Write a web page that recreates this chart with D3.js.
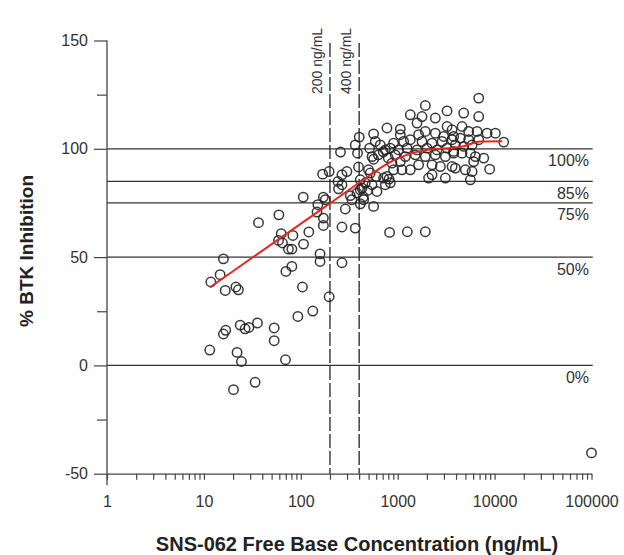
<!DOCTYPE html>
<html>
<head>
<meta charset="utf-8">
<script src="https://cdn.jsdelivr.net/npm/d3@7"></script>
<style>
  html, body { margin: 0; padding: 0; background: #fff; }
  svg { display: block; font-family: "Liberation Sans", Arial, Helvetica, sans-serif; }
</style>
</head>
<body>
<div id="viz"></div>
<script>
// ---- Data ----
// free base concentration (ng/mL) and % BTK inhibition, same order
const conc = [
  11.8, 14.7, 15.9, 16.6, 21.4, 22.7, 36.6, 59.4, 62.8, 58.9, 64.7, 74.6, 80.9, 70.2, 80.9, 82.8,
  106.7, 121, 106, 104, 158, 158, 266, 196, 133, 93.3, 171, 150, 147, 171, 171, 179,
  266, 288, 365, 245, 242, 324, 380, 411, 441, 411, 564, 611, 825,
  23.7, 26.6, 29.1, 35.7, 16.8, 15.9, 53.1, 53.1, 11.5, 22.0, 24.4, 69.5, 33.8, 20.2, 100000,
  401, 564, 587, 513, 661, 745, 257, 385, 543, 564, 394, 500, 521, 601, 715, 813,
  168, 196, 266, 299, 266, 411, 463, 543, 428, 489, 745, 445, 337, 839, 1257, 1928,
  1928, 3231, 1349, 1782, 2445, 1582, 775, 1064, 1928, 2445, 3231, 1064, 1644, 2980,
  907, 1151, 1349, 1782, 2261, 2870, 3640, 839, 1021, 1248, 1582, 2009, 2547, 3231,
  944, 1199, 1520, 1928, 2445, 3104, 3778, 873, 1064, 1349, 1107, 907, 1644, 2261, 2754, 3640,
  2084, 2261, 3104, 775,
  6855, 4797, 6855, 4613, 3640, 5400, 6592, 8367, 10190, 12420, 3778, 4436, 5400, 6855,
  3936, 4797, 5857, 3778, 4613, 5623, 6336, 6085, 3936, 4990, 5857, 5623, 8893, 7727,
  710, 631, 800, 365
];
const inhibition = [
  38.5, 41.9, 49.2, 34.6, 36.2, 34.9, 65.9, 69.5, 60.8, 57.7, 56.5, 53.7, 53.7, 43.4, 45.7, 60.0,
  56.0, 61.6, 77.7, 36.2, 51.5, 48.0, 47.4, 31.7, 25.1, 22.6, 77.7, 74.2, 70.8, 68.0, 64.6, 76.5,
  63.9, 72.2, 63.4, 81.5, 84.9, 78.4, 79.6, 81.1, 77.8, 74.6, 73.4, 80.3, 61.4,
  18.6, 16.9, 17.5, 19.6, 16.2, 14.5, 17.3, 11.4, 7.1, 6.0, 1.8, 2.6, -7.8, -11.2, -40.4,
  105.4, 106.9, 103.4, 100.3, 101.8, 99.5, 98.5, 98.0, 96.4, 95.2, 91.6, 90.3, 88.8, 87.2, 86.5, 86.0,
  88.3, 89.5, 88.0, 89.5, 83.4, 85.7, 84.2, 83.4, 81.9, 80.8, 83.4, 76.5, 76.5, 84.3, 61.7, 61.7,
  120.0, 117.5, 115.7, 114.9, 114.2, 111.9, 109.6, 109.1, 108.0, 107.2, 110.3, 106.5, 106.5, 105.7,
  102.6, 103.4, 104.2, 103.4, 102.6, 103.4, 104.2, 100.3, 99.5, 100.3, 99.5, 100.3, 99.5, 100.3,
  97.2, 96.4, 97.2, 96.4, 97.2, 96.4, 98.0, 93.4, 94.1, 90.3, 90.3, 90.3, 92.6, 92.6, 91.8, 91.8,
  86.5, 88.0, 86.5, 87.2,
  123.4, 116.5, 114.9, 110.3, 108.8, 108.0, 108.0, 107.2, 107.2, 103.1, 105.7, 104.9, 104.2, 104.2,
  101.8, 101.1, 101.8, 98.8, 98.0, 98.0, 96.4, 94.1, 91.1, 90.3, 89.5, 85.7, 90.6, 95.7,
  98.6, 97.2, 95.8, 101.8
];

// fitted curve (red)
const fitConc = [11.5, 170, 440, 800, 1650, 4800, 7100, 12000];
const fitInhibition = [36, 72.6, 85.6, 93.4, 98.8, 101.2, 103.4, 103.5];

// horizontal reference levels and vertical concentration markers
const refLevels = [100, 85, 75, 50, 0];
const refLabels = ['100%', '85%', '75%', '50%', '0%'];
const markerConc = [200, 400];
const markerLabels = ['200 ng/mL', '400 ng/mL'];

// axis ticks
const xMajor = [1, 10, 100, 1000, 10000, 100000];
const yMajor = [-50, 0, 50, 100, 150];
const yMinor = [-25, 25, 125];

// ---- Layout ----
const W = 624, H = 555;
const TXT = '#333';

const x = d3.scaleLog().domain([1, 100000]).range([107, 591.5]);
const y = d3.scaleLinear().domain([-50, 150]).range([473.7, 40.5]);

const svg = d3.select('#viz').append('svg')
  .attr('width', W).attr('height', H)
  .style('background', '#fff');

// Reference lines
svg.append('g').selectAll('line').data(refLevels).join('line')
  .attr('x1', x(1)).attr('x2', 592.7)
  .attr('y1', d => y(d)).attr('y2', d => y(d))
  .attr('stroke', '#333').attr('stroke-width', 1.2);

svg.append('g').selectAll('text').data(refLevels).join('text')
  .attr('x', 589).attr('y', d => y(d) + 17.5)
  .attr('text-anchor', 'end')
  .attr('fill', TXT)
  .style('font-size', '16px')
  .text((d, i) => refLabels[i]);

// Vertical dashed markers
svg.append('g').selectAll('line').data(markerConc).join('line')
  .attr('x1', d => x(d)).attr('x2', d => x(d))
  .attr('y1', 43).attr('y2', y(-50))
  .attr('stroke', '#222').attr('stroke-width', 1.3)
  .attr('stroke-dasharray', '14,3');

svg.append('g').selectAll('text').data(markerConc).join('text')
  .attr('transform', d => `translate(${x(d) - 8},94) rotate(-90)`)
  .attr('fill', TXT)
  .style('font-size', '14px')
  .text((d, i) => markerLabels[i]);

// Axes
const xMinor = [];
for (let e = 0; e < 5; e++) for (let k = 2; k <= 9; k++) xMinor.push(k * Math.pow(10, e));

const gx = svg.append('g').attr('transform', `translate(0,${y(-50)})`)
  .call(d3.axisBottom(x).tickValues(xMajor.concat(xMinor)).tickSize(6).tickSizeOuter(0)
    .tickFormat(d => xMajor.includes(d) ? String(d) : ''));
gx.select('.domain').attr('stroke', '#444').attr('stroke-width', 1.3);
gx.selectAll('.tick line').attr('stroke', '#444').attr('stroke-width', 1.2);
gx.selectAll('.tick text').attr('y', 22).attr('fill', TXT)
  .style('font-size', '16px').style('font-family', null);

const gy = svg.append('g').attr('transform', `translate(${x(1)},0)`)
  .call(d3.axisLeft(y).tickValues(yMajor).tickSize(13).tickSizeOuter(0).tickFormat(d => String(d)));
gy.select('.domain').remove();
gy.selectAll('.tick line').attr('stroke', '#444').attr('stroke-width', 1.2);
gy.selectAll('.tick text').attr('x', -19).attr('fill', TXT)
  .style('font-size', '16px').style('font-family', null);

const gyMinor = svg.append('g').attr('transform', `translate(${x(1)},0)`)
  .call(d3.axisLeft(y).tickValues(yMinor).tickSize(10).tickFormat(''));
gyMinor.select('.domain').remove();
gyMinor.selectAll('.tick line').attr('stroke', '#444').attr('stroke-width', 1.2);

// y axis line runs down past the x axis
svg.append('line')
  .attr('x1', x(1)).attr('x2', x(1))
  .attr('y1', y(150)).attr('y2', y(-50) + 11.5)
  .attr('stroke', '#444').attr('stroke-width', 1.3);

// Scatter
const pts = conc.map((c, i) => ({ c, v: inhibition[i] }));
svg.append('g').selectAll('circle').data(pts).join('circle')
  .attr('cx', d => x(d.c)).attr('cy', d => y(d.v)).attr('r', 4.7)
  .attr('fill', 'none')
  .attr('stroke', '#222').attr('stroke-width', 1.5)
  .attr('stroke-opacity', 0.9);

// Fit line
const fit = fitConc.map((c, i) => [c, fitInhibition[i]]);
svg.append('path')
  .attr('d', d3.line().x(d => x(d[0])).y(d => y(d[1])).curve(d3.curveMonotoneX)(fit))
  .attr('fill', 'none')
  .attr('stroke', '#e8261c').attr('stroke-width', 2);

// Axis titles
svg.append('text')
  .attr('x', 357).attr('y', 551)
  .attr('text-anchor', 'middle')
  .attr('fill', '#222')
  .style('font-size', '20px').style('font-weight', 700)
  .text('SNS-062 Free Base Concentration (ng/mL)');

svg.append('text')
  .attr('transform', 'translate(33,251) rotate(-90)')
  .attr('text-anchor', 'middle')
  .attr('fill', '#222')
  .style('font-size', '19px').style('font-weight', 700)
  .text('% BTK Inhibition');
</script>
</body>
</html>
